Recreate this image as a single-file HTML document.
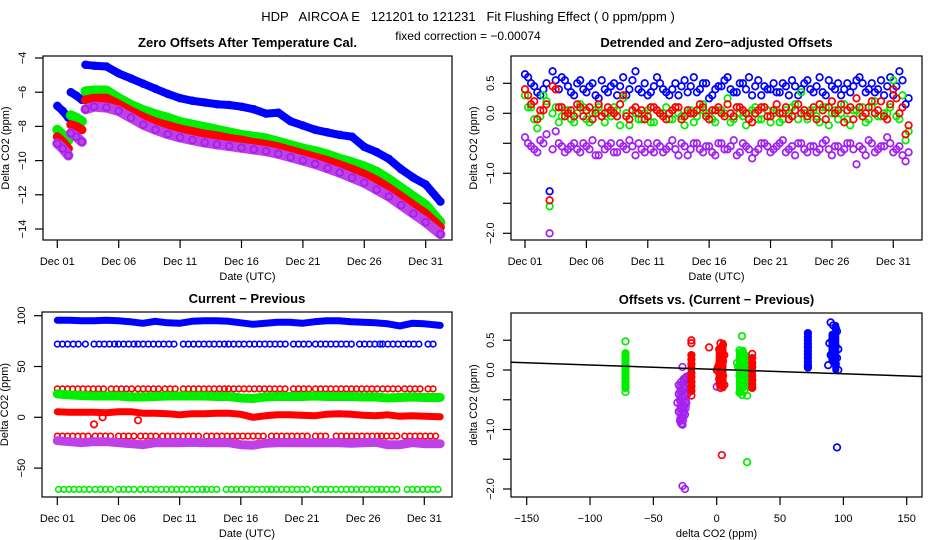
<!DOCTYPE html>
<html><head><meta charset="utf-8"><style>
html,body{margin:0;padding:0;background:#fff;width:936px;height:540px;overflow:hidden}
svg text{font-family:"Liberation Sans",sans-serif;fill:#000}
</style></head><body>
<svg id="chart" xmlns="http://www.w3.org/2000/svg" width="936" height="540" viewBox="0 0 936 540">
<rect x="0" y="0" width="936" height="540" fill="#fff"/>
<text x="468" y="21" font-size="13" text-anchor="middle" xml:space="preserve">HDP   AIRCOA E   121201 to 121231   Fit Flushing Effect ( 0 ppm/ppm )</text>
<text x="468" y="40" font-size="12" text-anchor="middle">fixed correction = −0.00074</text>
</svg>
<script>
// ---------- Panel 1 data ----------
const p1Days = [0,0.45,0.9,null,1.1,1.55,2.0,null,2.3,3,4,5,6,7,8,9,10,11,12,13,14,15,16,17,18,19,20,21,22,23,24,25,26,27,28,29,30,31.2];
const p1Blue = [-6.8,-7.1,-7.5,null,-6.0,-6.2,-6.45,null,-4.4,-4.45,-4.5,-4.9,-5.2,-5.5,-5.8,-6.1,-6.35,-6.5,-6.6,-6.7,-6.75,-6.85,-7.0,-7.25,-7.2,-7.7,-7.95,-8.2,-8.35,-8.5,-8.6,-9.2,-9.5,-9.9,-10.5,-11.0,-11.4,-12.4];
const p1Green = [-8.2,-8.5,-8.8,null,-7.35,-7.5,-7.7,null,-5.95,-5.9,-5.9,-6.35,-6.75,-7.05,-7.3,-7.5,-7.75,-7.9,-8.05,-8.2,-8.35,-8.5,-8.6,-8.7,-8.9,-9.1,-9.3,-9.45,-9.65,-9.9,-10.1,-10.35,-10.65,-11.1,-11.6,-12.1,-12.6,-13.6];
const p1Red = [-8.6,-8.9,-9.3,null,-7.9,-8.0,-8.2,null,-6.45,-6.35,-6.35,-6.7,-7.1,-7.45,-7.75,-7.95,-8.15,-8.3,-8.45,-8.55,-8.7,-8.8,-8.95,-9.05,-9.2,-9.4,-9.6,-9.8,-10.0,-10.25,-10.5,-10.8,-11.15,-11.6,-12.1,-12.6,-13.1,-13.9];
const p1Purple = [-9.0,-9.3,-9.7,null,-8.4,-8.6,-8.9,null,-7.0,-6.85,-6.9,-7.1,-7.5,-7.9,-8.2,-8.45,-8.65,-8.8,-8.95,-9.05,-9.15,-9.25,-9.35,-9.45,-9.6,-9.8,-10.0,-10.2,-10.45,-10.7,-11.0,-11.3,-11.7,-12.1,-12.6,-13.1,-13.6,-14.3];
const p1YTicks = [-4,-6,-8,-10,-12,-14];

// ---------- Panel 2 data ----------
const p2Days = [0,0.5,1,1.5,2,2.5,3,3.5,4,4.5,5,5.5,6,6.5,7,7.5,8,8.5,9,9.5,10,10.5,11,11.5,12,12.5,13,13.5,14,14.5,15,15.5,16,16.5,17,17.5,18,18.5,19,19.5,20,20.5,21,21.5,22,22.5,23,23.5,24,24.5,25,25.5,26,26.5,27,27.5,28,28.5,29,29.5,30,30.5,31];
const p2Blue = [0.65,0.5,0.35,0.4,-1.3,0.55,0.6,0.45,0.3,0.55,0.35,0.5,0.25,0.4,0.45,0.3,0.6,0.4,0.7,0.35,0.3,0.45,0.5,0.35,0.4,0.3,0.55,0.45,0.35,0.5,0.25,0.4,0.45,0.6,0.35,0.5,0.4,0.3,0.55,0.45,0.4,0.35,0.5,0.3,0.45,0.4,0.55,0.35,0.6,0.3,0.45,0.5,0.4,0.35,0.55,0.5,0.4,0.35,0.55,0.45,0.3,0.7,0.15];
const p2Green = [0.3,0.1,-0.25,0.3,-1.55,0.1,-0.05,0.05,-0.15,0.15,-0.1,0.0,0.1,-0.15,-0.05,0.05,0.25,-0.2,0.0,-0.1,0.05,-0.15,0.0,0.1,-0.1,0.0,-0.2,0.05,-0.05,0.15,0.0,-0.15,0.05,0.25,-0.1,0.0,-0.2,0.05,-0.1,0.1,-0.15,0.05,-0.1,0.0,0.15,0.35,-0.1,0.05,-0.15,0.1,0.0,-0.1,0.15,-0.2,0.05,0.1,-0.1,0.2,-0.05,0.0,0.55,-0.1,-0.45];
const p2Red = [0.4,0.15,-0.1,0.05,-1.45,0.4,0.1,0.0,-0.05,0.1,0.05,-0.1,0.15,0.0,0.05,-0.05,0.3,-0.1,0.1,0.05,-0.05,0.1,0.0,-0.1,0.05,0.1,-0.05,0.0,0.05,0.1,-0.1,0.05,0.0,0.15,-0.05,0.1,0.0,-0.15,0.05,0.1,-0.05,0.15,0.0,-0.1,0.05,0.0,-0.05,0.1,0.15,-0.1,0.2,0.05,-0.15,0.1,0.25,-0.05,0.1,0.0,0.2,-0.1,0.4,0.0,-0.35];
const p2Purple = [-0.4,-0.55,-0.65,-0.5,-2.0,-0.3,-0.55,-0.6,-0.5,-0.65,-0.55,-0.45,-0.7,-0.6,-0.5,-0.65,-0.55,-0.45,-0.7,-0.6,-0.5,-0.65,-0.55,-0.6,-0.45,-0.7,-0.55,-0.6,-0.5,-0.65,-0.55,-0.7,-0.5,-0.6,-0.45,-0.65,-0.55,-0.75,-0.6,-0.5,-0.65,-0.55,-0.45,-0.6,-0.7,-0.5,-0.65,-0.55,-0.6,-0.45,-0.7,-0.55,-0.6,-0.5,-0.85,-0.6,-0.45,-0.65,-0.55,-0.4,-0.65,-0.55,-0.8];
const p2Days2 = [0.25,0.75,1.25,1.75,2.25,2.75,3.25,3.75,4.25,4.75,5.25,5.75,6.25,6.75,7.25,7.75,8.25,8.75,9.25,9.75,10.25,10.75,11.25,11.75,12.25,12.75,13.25,13.75,14.25,14.75,15.25,15.75,16.25,16.75,17.25,17.75,18.25,18.75,19.25,19.75,20.25,20.75,21.25,21.75,22.25,22.75,23.25,23.75,24.25,24.75,25.25,25.75,26.25,26.75,27.25,27.75,28.25,28.75,29.25,29.75,30.25,30.75,31.25];
const p2Blue2 = [0.6,0.45,0.3,0.5,0.7,0.4,0.55,0.35,0.5,0.4,0.45,0.3,0.55,0.35,0.5,0.45,0.3,0.55,0.4,0.5,0.35,0.6,0.4,0.3,0.5,0.45,0.35,0.6,0.4,0.5,0.3,0.45,0.55,0.4,0.35,0.5,0.6,0.45,0.3,0.4,0.5,0.35,0.45,0.55,0.3,0.5,0.4,0.45,0.35,0.55,0.4,0.3,0.5,0.45,0.6,0.35,0.5,0.4,0.3,0.6,0.45,0.55,0.25];
const p2Red2 = [0.3,0.2,0.05,0.15,0.45,0.1,-0.05,0.05,0.15,-0.05,0.1,0.0,-0.05,0.1,0.0,0.15,-0.05,0.05,0.0,-0.1,0.1,0.05,-0.05,0.0,0.1,-0.1,0.05,0.0,0.15,-0.05,0.05,0.1,-0.05,0.0,0.1,0.05,-0.1,0.0,0.1,-0.05,0.05,0.0,0.1,-0.05,0.15,0.05,0.0,-0.1,0.05,0.1,0.0,0.15,0.05,-0.1,0.1,0.0,0.2,0.05,-0.05,0.15,0.25,0.1,-0.2];
const p2Green2 = [0.1,-0.1,-0.05,0.2,0.0,-0.15,0.05,-0.1,0.0,0.1,-0.15,0.05,-0.05,0.0,0.1,-0.2,0.0,0.05,-0.1,0.0,-0.15,0.05,0.0,-0.1,0.1,-0.05,0.0,-0.15,0.05,0.0,-0.1,0.05,0.0,-0.15,0.1,-0.05,0.0,0.1,-0.1,0.05,0.0,-0.15,0.05,0.1,-0.1,0.0,0.05,-0.05,0.1,-0.2,0.05,0.0,-0.1,0.05,0.0,-0.15,0.1,-0.05,0.0,0.1,-0.05,0.3,-0.3];
const p2Purple2 = [-0.5,-0.6,-0.45,-0.35,-0.6,-0.5,-0.65,-0.55,-0.6,-0.5,-0.6,-0.7,-0.5,-0.55,-0.65,-0.5,-0.6,-0.55,-0.5,-0.65,-0.6,-0.5,-0.65,-0.55,-0.6,-0.5,-0.7,-0.5,-0.6,-0.55,-0.65,-0.5,-0.6,-0.55,-0.7,-0.5,-0.6,-0.65,-0.5,-0.55,-0.6,-0.5,-0.65,-0.55,-0.5,-0.6,-0.55,-0.65,-0.5,-0.6,-0.55,-0.65,-0.5,-0.6,-0.55,-0.7,-0.5,-0.6,-0.55,-0.5,-0.6,-0.7,-0.65];
const p2YTicks = [0.5,0,-0.5,-1,-1.5,-2];
const p2YLabels = ["0.5","0.0","","−1.0","","−2.0"];

// ---------- Panel 3 data ----------
const p3Days = [0,1,2,3,4,5,6,7,8,9,10,11,12,13,14,15,16,17,18,19,20,21,22,23,24,25,26,27,28,29,30,31.3];
const p3BlueMain = [95.5,95.5,95,95,95.5,95,94,92.5,94.5,93,92.5,94.5,95,95,94.5,93,91.5,92.5,93.5,93.5,92.5,94,95,95,94,93.5,93,92,90,92.5,92,90.5];
const p3GreenMain = [23,22,21.5,21,21,21,20,20,20.5,21,21,21,21,20.5,20.5,19,18.5,20,20.5,20.5,20.5,21,20.5,20.5,20.5,20,20,19,19.5,20,19.5,19.5];
const p3RedMain = [5.5,5,5,5,4.5,5.5,5.5,4,4,3.5,2.5,3.5,3.5,4,4,3,0,1.5,2.5,2.5,2,1.5,3,3.5,3,2,1.5,2.5,1,1.5,1,0.5];
const p3PurpleMain = [-23,-24,-25,-24,-24,-25,-26,-27,-25,-25,-25,-24.5,-25,-25,-25,-27,-27.5,-25.5,-25,-25,-25,-25,-25,-25,-25.5,-25,-24.5,-27,-27,-25,-26,-26];
const p3Blue72Level = 72;
const p3Blue72Segs = [[0,1.0],[1.3,2.0],[2.3,2.7],[3.0,4.7],[5.0,6.3],[6.6,8.3],[8.7,9.8],[10.3,13.7],[14.0,15.5],[15.7,19.0],[19.3,20.8],[21.1,24.3],[24.7,26.4],[26.6,28.1],[28.3,29.9],[30.3,31.1]];
const p3Red28Level = 28;
const p3Red28Segs = [[0,4.0],[4.4,6.3],[6.6,8.4],[8.8,10.0],[10.3,13.7],[14.0,19.0],[19.3,20.8],[21.1,26.4],[26.6,28.1],[28.4,29.9],[30.3,31.1]];
const p3RedM18Level = -18.5;
const p3RedM18Segs = [[0,2.9],[3.1,4.7],[5.0,6.5],[6.8,8.3],[8.6,11.8],[12.2,13.6],[13.9,17.2],[17.5,20.8],[21.1,22.3],[22.8,26.2],[26.5,28.1],[28.4,31.1]];
const p3GreenM71Level = -71;
const p3GreenM71Segs = [[0.1,2.9],[3.1,4.7],[5.0,6.3],[6.8,8.3],[8.5,11.9],[12.2,13.3],[13.8,17.2],[17.5,20.8],[21.1,26.4],[26.5,28.1],[28.6,31.3]];
const p3OutDays = [3.0,6.6,3.7];
const p3OutVals = [-7,-3,0];
const p3YTicks = [100,50,0,-50];
const p3YLabels = ["100","50","0","−50"];

// ---------- Panel 4 data ----------
const p4GreenX = [-72,-72,-72,-72,-72,-72,-72,-72,-72,-72,-72,-72,-72,18,20,22,19,21,23,17,20,22,18,21,24,19,20,22,16,21,23,20,18,20,24,24,22];
const p4GreenY = [0.48,0.28,0.22,0.16,0.1,0.04,-0.02,-0.08,-0.14,-0.2,-0.25,-0.3,-0.37,0.33,0.3,0.25,0.2,0.15,0.1,0.05,0.0,-0.05,-0.1,-0.15,-0.2,-0.25,-0.3,-0.35,0.12,-0.02,-0.12,-0.42,-0.38,0.57,-1.55,-0.43,0.22];
const p4RedX = [-20,-20,-20,-20,-20,-20,-20,-20,-20,-20,-20,-20,1,3,5,2,4,6,0,3,5,2,4,1,3,5,2,4,6,3,28,28,28,28,28,28,28,28,28,-6,4];
const p4RedY = [0.5,0.45,0.25,0.18,0.1,0.03,-0.05,-0.12,-0.2,-0.27,-0.35,-0.43,0.05,0.45,0.42,0.35,0.3,0.25,0.0,0.2,0.15,0.1,0.05,-0.02,-0.05,-0.1,-0.15,-0.2,-0.25,-0.3,0.27,0.2,0.12,0.05,-0.02,-0.1,-0.17,-0.24,-0.3,0.38,-1.43];
const p4BlueX = [72,72,72,72,72,72,72,72,72,72,72,90,92,94,95,93,91,89,94,96,92,90,95,93,91,94,96,92,88,95];
const p4BlueY = [0.62,0.56,0.5,0.44,0.38,0.32,0.26,0.2,0.14,0.08,0.04,0.8,0.75,0.7,0.65,0.6,0.5,0.45,0.4,0.35,0.3,0.25,0.2,0.15,0.28,0.1,0.0,0.55,0.08,-1.3];
const p4PurpleX = [-30,-28,-26,-24,-22,-30,-28,-26,-24,-22,-31,-29,-27,-25,-23,-30,-28,-26,-24,-29,-27,-25,-28,-26,-27,-27,-27,-25,0];
const p4PurpleY = [-0.25,-0.2,-0.15,-0.12,-0.1,-0.4,-0.35,-0.3,-0.28,-0.25,-0.55,-0.5,-0.45,-0.42,-0.4,-0.7,-0.65,-0.6,-0.55,-0.85,-0.8,-0.75,-0.9,-0.7,-0.92,0.05,-1.95,-2.0,-0.28];
// dense vertical clusters (x, y-min, y-max)
const p4GreenBarX = [-72,18,21,24], p4GreenBarLo = [-0.3,-0.38,-0.3,-0.25], p4GreenBarHi = [0.28,0.3,0.33,0.2];
const p4RedBarX = [-20,2,5,28], p4RedBarLo = [-0.35,-0.25,-0.3,-0.3], p4RedBarHi = [0.25,0.35,0.45,0.2];
const p4BlueBarX = [72,91,94], p4BlueBarLo = [0.05,0.15,0.0], p4BlueBarHi = [0.62,0.6,0.75];
const p4PurpleBarX = [-29,-26,-24], p4PurpleBarLo = [-0.88,-0.85,-0.65], p4PurpleBarHi = [-0.25,-0.15,-0.1];
const p4FitIntercept = 0.01;
const p4FitSlope = -0.00074;
const p4XTicks = [-150,-100,-50,0,50,100,150];
const p4XLabels = ["−150","−100","−50","0","50","100","150"];
const p4YTicks = [0.5,0,-0.5,-1,-1.5,-2];
const p4YLabels = ["0.5","0.0","","−1.0","","−2.0"];

const dateTicks = [0,5,10,15,20,25,30];
const dateLabels = ["Dec 01","Dec 06","Dec 11","Dec 16","Dec 21","Dec 26","Dec 31"];

const BLUE="#0000ff", GREEN="#00ee00", RED="#ff0000", PURPLE="#a020f0", PURPLEBAND="#c040e8";
const svg = document.getElementById('chart');
const NS = "http://www.w3.org/2000/svg";
function mk(tag, attrs, parent){
  const e=document.createElementNS(NS,tag);
  for(const k in attrs) e.setAttribute(k,attrs[k]);
  (parent||svg).appendChild(e); return e;
}
function linScale(d0,d1,r0,r1){return v=>r0+(v-d0)*(r1-r0)/(d1-d0);}

function panel(name, box, title, xTitle, yTitle){
  const g=mk('g',{});
  
  
  const t=mk('text',{x:(box.l+box.r)/2,y:box.t-9,'font-size':13,'font-weight':'bold','text-anchor':'middle'},g);
  t.textContent=title;
  
  
  const xt=mk('text',{x:(box.l+box.r)/2,y:box.b+40,'font-size':11,'text-anchor':'middle'},g);
  xt.textContent=xTitle;
  
  
  const cy=(box.t+box.b)/2, cx=box.l-34;
  const yt=mk('text',{x:cx,y:cy,'font-size':11,'text-anchor':'middle',transform:`rotate(-90 ${cx} ${cy})`},g);
  yt.textContent=yTitle;
  
  
  const plot=mk('g',{},g);
  
  
  return {g,plot};
}
function drawBox(g,box){
  const r=mk('rect',{x:box.l,y:box.t,width:box.r-box.l,height:box.b-box.t,fill:'none',stroke:'#000','stroke-width':1.2},g);
  
  
}
function xAxis(g,box,sx,ticks,labels){
  const ax=mk('g',{},g);
  
  
  ticks.forEach((v,i)=>{
    const x=sx(v);
    mk('line',{x1:x,x2:x,y1:box.b,y2:box.b+8,stroke:'#000','stroke-width':1.2},ax);
    const t=mk('text',{x:x,y:box.b+25,'font-size':11,'text-anchor':'middle'},ax);
    t.textContent=labels[i];
    
    
  });
}
function yAxis(g,box,sy,ticks,labels){
  const ax=mk('g',{},g);
  
  
  ticks.forEach((v,i)=>{
    const y=sy(v);
    mk('line',{x1:box.l-8,x2:box.l,y1:y,y2:y,stroke:'#000','stroke-width':1.2},ax);
    if(labels[i]!==""){
      const cx=box.l-17;
      const t=mk('text',{x:cx,y:y,'font-size':11,'text-anchor':'middle',transform:`rotate(-90 ${cx} ${y})`},ax);
      t.textContent=labels[i];
      
      
    }
  });
}
function band(g,xs,ys,sx,sy,color,w,name){
  let d="", pen=false;
  for(let i=0;i<xs.length;i++){
    if(xs[i]===null||ys[i]===null){pen=false;continue;}
    d+=(pen?"L":"M")+sx(xs[i]).toFixed(1)+" "+sy(ys[i]).toFixed(1)+" ";
    pen=true;
  }
  const p=mk('path',{d:d,fill:'none',stroke:color,'stroke-width':w,'stroke-linejoin':'round','stroke-linecap':'round'},g);
  
  
}
function vbars(g,xs,lo,hi,sx,sy,color,name){
  const sg=mk('g',{},g);
  
  
  xs.forEach((x,i)=>{
    const l=mk('line',{x1:sx(x),x2:sx(x),y1:sy(lo[i]),y2:sy(hi[i]),stroke:color,'stroke-width':7,'stroke-linecap':'round'},sg);
    
    
  });
}
function points(g,xs,ys,sx,sy,color,r,name){
  const sg=mk('g',{},g);
  
  
  for(let i=0;i<xs.length;i++){
    if(xs[i]===null||ys[i]===null) continue;
    const c=mk('circle',{cx:sx(xs[i]).toFixed(1),cy:sy(ys[i]).toFixed(1),r:r,fill:'none',stroke:color,'stroke-width':1.7},sg);
    
    
  }
}
function segRow(g,segs,level,sx,sy,color,name){
  const sg=mk('g',{},g);
  
  
  segs.forEach(s=>{
    for(let d=s[0]; d<=s[1]+1e-6; d+=0.42){
      const c=mk('circle',{cx:sx(d).toFixed(1),cy:sy(level).toFixed(1),r:2.8,fill:'none',stroke:color,'stroke-width':1.6},sg);
      
      
    }
  });
}

// ===== Panel 1 =====
(function(){
  const box={l:43,r:452,t:56,b:240};
  const sx=linScale(0,30,57.3,425.7), sy=linScale(-4,-14,58,229);
  const {g,plot}=panel('panel-zero-offsets',box,'Zero Offsets After Temperature Cal.','Date (UTC)','Delta CO2 (ppm)');
  band(plot,p1Days,p1Blue,sx,sy,BLUE,8,'series-blue-band');
  points(plot,p1Days,p1Blue,sx,sy,BLUE,3.4,'series-blue');
  band(plot,p1Days,p1Green,sx,sy,GREEN,10,'series-green-band');
  points(plot,p1Days,p1Green,sx,sy,GREEN,3.4,'series-green');
  band(plot,p1Days,p1Red,sx,sy,RED,9,'series-red-band');
  points(plot,p1Days,p1Red,sx,sy,RED,3.4,'series-red');
  band(plot,p1Days,p1Purple,sx,sy,PURPLEBAND,10,'series-purple-band');
  points(plot,p1Days,p1Purple,sx,sy,PURPLE,3.4,'series-purple');
  drawBox(g,box);
  xAxis(g,box,sx,dateTicks,dateLabels);
  yAxis(g,box,sy,p1YTicks,p1YTicks.map(v=>String(v).replace('-','−')));
})();

// ===== Panel 2 =====
(function(){
  const box={l:511,r:922,t:56,b:240};
  const sx=linScale(0,30,525,893.3), sy=linScale(0,-1,113.3,173.3);
  const {g,plot}=panel('panel-detrended-offsets',box,'Detrended and Zero−adjusted Offsets','Date (UTC)','Delta CO2 (ppm)');
  points(plot,p2Days,p2Blue,sx,sy,BLUE,3.3,'series-blue');
  points(plot,p2Days2,p2Blue2,sx,sy,BLUE,3.3,'series-blue-b');
  points(plot,p2Days,p2Purple,sx,sy,PURPLE,3.3,'series-purple');
  points(plot,p2Days2,p2Purple2,sx,sy,PURPLE,3.3,'series-purple-b');
  points(plot,p2Days,p2Green,sx,sy,GREEN,3.3,'series-green');
  points(plot,p2Days2,p2Green2,sx,sy,GREEN,3.3,'series-green-b');
  points(plot,p2Days,p2Red,sx,sy,RED,3.3,'series-red');
  points(plot,p2Days2,p2Red2,sx,sy,RED,3.3,'series-red-b');
  drawBox(g,box);
  xAxis(g,box,sx,dateTicks,dateLabels);
  yAxis(g,box,sy,p2YTicks,p2YLabels);
})();

// ===== Panel 3 =====
(function(){
  const box={l:42,r:452,t:312,b:497};
  const sx=linScale(0,30,57.3,424.3), sy=linScale(0,100,417.3,315.7);
  const {g,plot}=panel('panel-current-previous',box,'Current − Previous','Date (UTC)','Delta CO2 (ppm)');
  band(plot,p3Days,p3BlueMain,sx,sy,BLUE,7,'series-blue-main-band');
  segRow(plot,p3Blue72Segs,p3Blue72Level,sx,sy,BLUE,'series-blue-72-row');
  segRow(plot,p3Red28Segs,p3Red28Level,sx,sy,RED,'series-red-28-row');
  band(plot,p3Days,p3GreenMain,sx,sy,GREEN,9,'series-green-main-band');
  band(plot,p3Days,p3RedMain,sx,sy,RED,7,'series-red-main-band');
  segRow(plot,p3RedM18Segs,p3RedM18Level,sx,sy,RED,'series-red-minus18-row');
  band(plot,p3Days,p3PurpleMain,sx,sy,PURPLEBAND,9,'series-purple-main-band');
  segRow(plot,p3GreenM71Segs,p3GreenM71Level,sx,sy,GREEN,'series-green-minus71-row');
  points(plot,p3OutDays,p3OutVals,sx,sy,RED,3.2,'outliers');
  drawBox(g,box);
  xAxis(g,box,sx,dateTicks,dateLabels);
  yAxis(g,box,sy,p3YTicks,p3YLabels);
})();

// ===== Panel 4 =====
(function(){
  const box={l:511,r:922,t:313,b:497};
  const sx=linScale(0,150,716.7,906.7), sy=linScale(0,-1,370,429.5);
  const {g,plot}=panel('panel-offsets-vs-difference',box,'Offsets vs. (Current − Previous)','delta CO2 (ppm)','delta CO2 (ppm)');
  vbars(plot,p4GreenBarX,p4GreenBarLo,p4GreenBarHi,sx,sy,GREEN,'green-clusters');
  points(plot,p4GreenX,p4GreenY,sx,sy,GREEN,3.3,'series-green');
  vbars(plot,p4PurpleBarX,p4PurpleBarLo,p4PurpleBarHi,sx,sy,PURPLEBAND,'purple-clusters');
  points(plot,p4PurpleX,p4PurpleY,sx,sy,PURPLE,3.3,'series-purple');
  vbars(plot,p4RedBarX,p4RedBarLo,p4RedBarHi,sx,sy,RED,'red-clusters');
  points(plot,p4RedX,p4RedY,sx,sy,RED,3.3,'series-red');
  vbars(plot,p4BlueBarX,p4BlueBarLo,p4BlueBarHi,sx,sy,BLUE,'blue-clusters');
  points(plot,p4BlueX,p4BlueY,sx,sy,BLUE,3.3,'series-blue');
  const xa=-168, xb=168;
  const fit=mk('line',{x1:sx(xa),x2:sx(xb),y1:sy(p4FitIntercept+p4FitSlope*xa),y2:sy(p4FitIntercept+p4FitSlope*xb),stroke:'#000','stroke-width':1.5},plot);
  
  
  mk('rect',{x:box.r+0.6,y:box.t,width:20,height:box.b-box.t,fill:'#fff'},g);
  mk('rect',{x:box.l-20.6,y:box.t,width:20,height:box.b-box.t,fill:'#fff'},g);
  drawBox(g,box);
  xAxis(g,box,sx,p4XTicks,p4XLabels);
  yAxis(g,box,sy,p4YTicks,p4YLabels);
})();
</script>
</body></html>
